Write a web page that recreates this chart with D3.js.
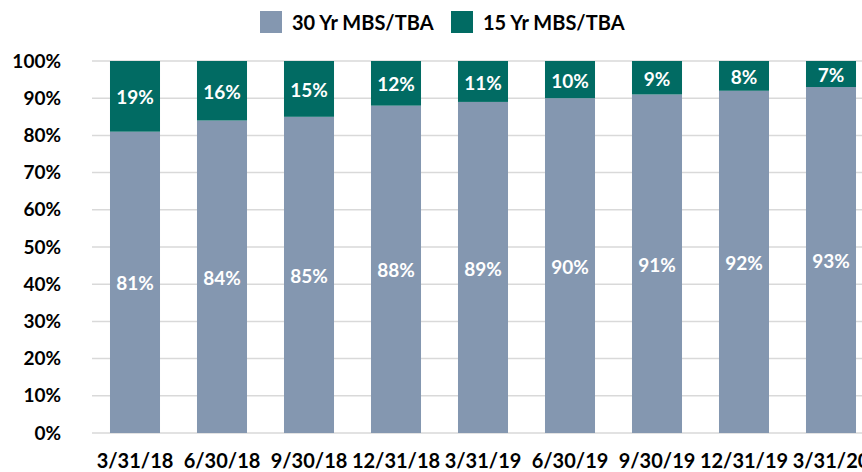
<!DOCTYPE html>
<html><head><meta charset="utf-8">
<script src="https://cdn.jsdelivr.net/npm/d3@7"></script>
<style>body{margin:0;background:#fff}svg{display:block}text{font-family:Lato,"Open Sans",sans-serif;font-weight:700}</style>
</head><body><svg id="c" width="862" height="472"></svg>
<script>
const categories = ["3/31/18","6/30/18","9/30/18","12/31/18","3/31/19","6/30/19","9/30/19","12/31/19","3/31/20"];
const yr30 = [81,84,85,88,89,90,91,92,93];
const yr15 = [19,16,15,12,11,10,9,8,7];
const seriesNames = ["30 Yr MBS/TBA","15 Yr MBS/TBA"];
const yTicks = [0,10,20,30,40,50,60,70,80,90,100];
const colors = ["#8497B0","#016B63"];

const svg = d3.select("#c");
const x = d3.scaleBand().domain(categories).range([91.5, 91.5+9*87]).paddingInner(0.425).paddingOuter(0.2125);
const y = d3.scaleLinear().domain([0,100]).range([433, 61]);

// gridlines
svg.append("g").selectAll("line").data(yTicks).join("line")
  .attr("x1",92).attr("x2",862).attr("y1",d=>y(d)).attr("y2",d=>y(d))
  .attr("stroke","#D9D9D9").attr("stroke-width",1.5);

// y axis labels
const yAxis = d3.axisLeft(y).tickValues(yTicks).tickFormat(d=>d+"%").tickSize(0).tickPadding(0);
const ya = svg.append("g").attr("transform","translate(61,0)").call(yAxis);
ya.select(".domain").remove();
ya.selectAll("text").attr("font-size",19).attr("fill","#000").style("font-family","Lato,sans-serif").style("font-weight",700);

// x axis labels
const xAxis = d3.axisBottom(x).tickSize(0).tickPadding(0);
const xa = svg.append("g").attr("transform","translate(0,454)").call(xAxis);
xa.select(".domain").remove();
xa.selectAll("text").attr("font-size",20).attr("fill","#000").attr("dy","0.71em").style("font-family","Lato,sans-serif").style("font-weight",700);

const stackData = categories.map((c,i)=>({cat:c,a:yr30[i],b:yr15[i]}));
const stack = d3.stack().keys(["a","b"])(stackData);

const g = svg.append("g");
stack.forEach((s,si)=>{
  g.append("g").selectAll("rect").data(s).join("rect")
    .attr("x",d=>x(d.data.cat)).attr("width",x.bandwidth())
    .attr("y",d=>y(d[1])).attr("height",d=>y(d[0])-y(d[1]))
    .attr("fill",colors[si]);
  g.append("g").selectAll("text").data(s).join("text")
    .attr("x",d=>x(d.data.cat)+x.bandwidth()/2)
    .attr("y",d=>(y(d[0])+y(d[1]))/2+1.5)
    .attr("dy","0.35em").attr("text-anchor","middle")
    .attr("font-size",19).attr("fill","#fff")
    .text(d=>(d[1]-d[0])+"%");
});

// legend
const leg = svg.append("g");
const legX = [260,451];
seriesNames.forEach((n,i)=>{
  leg.append("rect").attr("x",legX[i]).attr("y",11).attr("width",22).attr("height",22).attr("fill",colors[i]);
  leg.append("text").attr("x",legX[i]+32).attr("y",23).attr("dy","0.35em").attr("font-size",20).attr("fill","#000").text(n);
});
</script></body></html>
